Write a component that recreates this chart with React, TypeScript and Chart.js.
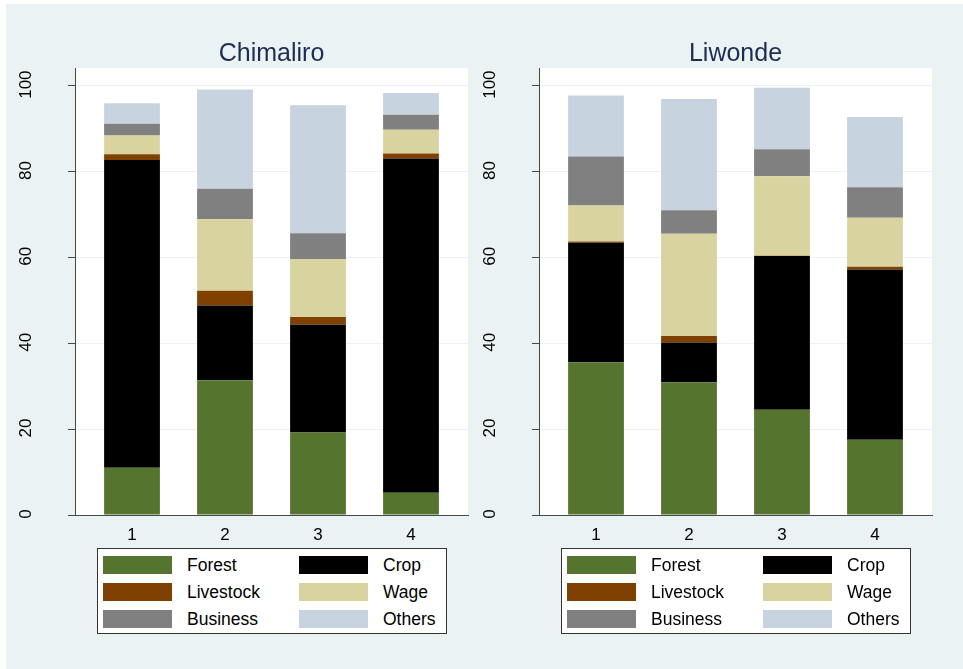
import React, { useEffect, useRef } from "react";
import { Chart, registerables } from "chart.js";

Chart.register(...registerables);

// ---- data ----
const categories = [1, 2, 3, 4];
const yTickValues = [0, 20, 40, 60, 80, 100];
const seriesNames = ["Forest", "Crop", "Livestock", "Wage", "Business", "Others"];
const seriesColors = ["#55752F", "#000000", "#804000", "#D9D3A0", "#808080", "#C7D3DF"];

const chimaliroForest = [11.0, 31.4, 19.2, 5.2];
const chimaliroCrop = [71.7, 17.4, 25.1, 77.8];
const chimaliroLivestock = [1.3, 3.4, 1.8, 1.2];
const chimaliroWage = [4.4, 16.7, 13.5, 5.5];
const chimaliroBusiness = [2.7, 7.1, 6.0, 3.5];
const chimaliroOthers = [4.8, 23.1, 29.8, 5.1];

const liwondeForest = [35.6, 30.9, 24.5, 17.5];
const liwondeCrop = [27.8, 9.3, 35.8, 39.7];
const liwondeLivestock = [0.3, 1.5, 0.1, 0.6];
const liwondeWage = [8.4, 23.8, 18.5, 11.4];
const liwondeBusiness = [11.4, 5.5, 6.3, 7.1];
const liwondeOthers = [14.2, 25.9, 14.3, 16.4];

const FONT = '"Liberation Sans", Arial, Helvetica, sans-serif';
const BG = "#EAF2F3";
const AXIS = "#474747";

type PanelProps = {
  title: string;
  series: number[][];
  left: number;
  width: number;
  padLeft: number;
  padRight: number;
};

function Panel({ title, series, left, width, padLeft, padRight }: PanelProps) {
  const ref = useRef<HTMLCanvasElement | null>(null);

  useEffect(() => {
    if (!ref.current) return;

    const panelDecor = {
      id: "panelDecor",
      beforeDraw(chart: any) {
        const { ctx, chartArea } = chart;
        ctx.save();
        ctx.fillStyle = "#FFFFFF";
        ctx.fillRect(chartArea.left, chartArea.top, chartArea.right - chartArea.left, chartArea.bottom - chartArea.top);
        ctx.restore();
      },
      afterDraw(chart: any) {
        const { ctx, chartArea } = chart;
        const yScale = chart.scales.y;
        ctx.save();
        // title
        ctx.font = `25px ${FONT}`;
        ctx.fillStyle = "#1C2D52";
        ctx.textAlign = "center";
        ctx.textBaseline = "alphabetic";
        ctx.fillText(title, (chartArea.left + chartArea.right) / 2, chartArea.top - 7.5);
        // rotated y tick labels
        ctx.font = `17px ${FONT}`;
        ctx.fillStyle = "#000000";
        for (const t of yScale.ticks) {
          const py = yScale.getPixelForValue(t.value);
          ctx.save();
          ctx.translate(chartArea.left - 44, py - 1);
          ctx.rotate(-Math.PI / 2);
          ctx.fillText(String(t.value), 0, 0);
          ctx.restore();
        }
        ctx.restore();
      },
    };

    const chart = new Chart(ref.current, {
      type: "bar",
      data: {
        datasets: series.map((vals, si) => ({
          label: seriesNames[si],
          data: categories.map((c, i) => ({ x: c, y: vals[i] })),
          backgroundColor: seriesColors[si],
          borderWidth: 0,
          stack: "total",
          barPercentage: 0.6,
          categoryPercentage: 1,
        })),
      },
      options: {
        responsive: false,
        animation: false,
        devicePixelRatio: 1,
        layout: { padding: { left: padLeft, right: padRight, top: 68, bottom: 124 } },
        plugins: { legend: { display: false }, title: { display: false }, tooltip: { enabled: false } },
        scales: {
          x: {
            type: "linear",
            offset: false,
            min: 0.387,
            max: 4.613,
            afterBuildTicks: (s: any) => {
              s.ticks = categories.map((v) => ({ value: v }));
            },
            afterFit: (s: any) => {
              s.height = 30;
            },
            grid: { display: false, drawTicks: false, offset: false },
            border: { display: true, color: AXIS, width: 1 },
            ticks: {
              padding: 10,
              color: "#000000",
              font: { family: FONT, size: 17 },
              maxRotation: 0,
              callback: (v: any) => String(v),
            },
          },
          y: {
            type: "linear",
            stacked: true,
            min: 0,
            max: 104.1,
            afterBuildTicks: (s: any) => {
              s.ticks = yTickValues.map((v) => ({ value: v }));
            },
            afterFit: (s: any) => {
              s.width = 7;
            },
            grid: { color: BG, lineWidth: 1, tickColor: AXIS, tickLength: 7, drawTicks: true },
            border: { display: true, color: AXIS, width: 1 },
            ticks: { display: false },
          },
        },
      },
      plugins: [panelDecor],
    } as any);

    return () => chart.destroy();
  }, [title, series, padLeft, padRight]);

  return (
    <canvas
      ref={ref}
      width={width}
      height={669}
      style={{ position: "absolute", left, top: 0, width, height: 669 }}
    />
  );
}

function Legend({ left }: { left: number }) {
  const rows = [0, 1, 2];
  const rowTops = [7, 34, 61];
  return (
    <div
      style={{
        position: "absolute",
        left,
        top: 548,
        width: 350,
        height: 86,
        boxSizing: "border-box",
        border: "1px solid #333333",
        background: "#FFFFFF",
        fontFamily: FONT,
        fontSize: 17.5,
        color: "#000000",
      }}
    >
      {rows.map((r) =>
        [0, 1].map((c) => {
          const idx = r * 2 + c;
          const swLeft = c === 0 ? 5 : 201;
          const txLeft = c === 0 ? 89 : 285;
          return (
            <React.Fragment key={idx}>
              <div
                style={{
                  position: "absolute",
                  left: swLeft,
                  top: rowTops[r],
                  width: 69,
                  height: 18,
                  background: seriesColors[idx],
                }}
              />
              <div
                style={{
                  position: "absolute",
                  left: txLeft,
                  top: rowTops[r],
                  height: 18,
                  lineHeight: "18px",
                  whiteSpace: "nowrap",
                }}
              >
                {seriesNames[idx]}
              </div>
            </React.Fragment>
          );
        })
      )}
    </div>
  );
}

const chimaliroSeries = [chimaliroForest, chimaliroCrop, chimaliroLivestock, chimaliroWage, chimaliroBusiness, chimaliroOthers];
const liwondeSeries = [liwondeForest, liwondeCrop, liwondeLivestock, liwondeWage, liwondeBusiness, liwondeOthers];

export default function App() {
  return (
    <div
      style={{
        position: "absolute",
        left: 0,
        top: 0,
        width: 963,
        height: 669,
        background: "#FFFFFF",
        overflow: "hidden",
      }}
    >
      <div style={{ position: "absolute", left: 6, top: 4, right: 0, bottom: 0, background: BG }} />
      <Panel title="Chimaliro" series={chimaliroSeries} left={0} width={480} padLeft={68} padRight={12} />
      <Panel title="Liwonde" series={liwondeSeries} left={470} width={493} padLeft={62} padRight={31} />
      <Legend left={97} />
      <Legend left={561} />
    </div>
  );
}
